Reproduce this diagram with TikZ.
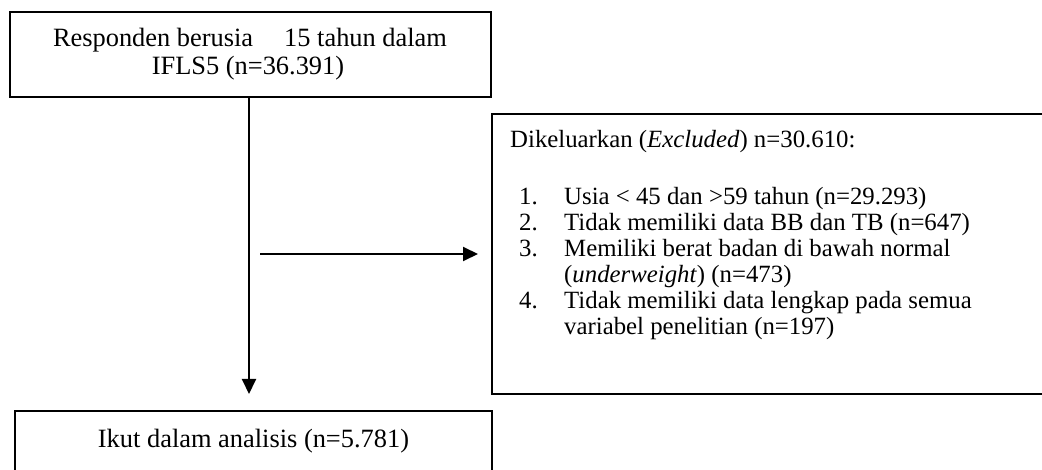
\documentclass[tikz,border=0pt]{standalone}
\usepackage{fontspec}
\setmainfont{Liberation Serif}
\usetikzlibrary{arrows.meta}
\begin{document}
\begin{tikzpicture}[x=1pt,y=-1pt,
  boxstyle/.style={draw=black,line width=1.4pt,rectangle,inner sep=0pt},
  bigtext/.style={font=\fontsize{26.4}{28}\selectfont,inner sep=0pt},
  listtext/.style={font=\fontsize{24.8}{26}\selectfont,inner sep=0pt,anchor=base west},
  arrowline/.style={line width=2pt,-{Triangle[length=15pt,width=14pt]}}]
\useasboundingbox (0,0) rectangle (1042,470);
\clip (0,0) rectangle (1042,470);
% boxes
\node[boxstyle,minimum width=481pt,minimum height=85pt] (top) at (250.5,54.5) {};
\node[boxstyle,minimum width=580pt,minimum height=280pt] (excl) at (782,254) {};
\node[boxstyle,minimum width=477pt,minimum height=100pt] (final) at (253.5,461) {};
% top text
\node[bigtext,anchor=base] (t1) at (250,47) {Responden berusia\hspace{31pt}15 tahun dalam};
\node[bigtext,anchor=base] (t2) at (248,75) {IFLS5 (n=36.391)};
% bottom text
\node[bigtext,anchor=base] (f1) at (253.5,447) {Ikut dalam analisis (n=5.781)};
% exclusion text
\node[listtext] (e0) at (510,148) {Dikeluarkan (\textit{Excluded}) n=30.610:};
\node[listtext] (n1) at (519,205) {1.};
\node[listtext] (i1) at (564,205) {Usia < 45 dan >59 tahun (n=29.293)};
\node[listtext] (n2) at (519,231) {2.};
\node[listtext] (i2) at (564,231) {Tidak memiliki data BB dan TB (n=647)};
\node[listtext] (n3) at (519,257) {3.};
\node[listtext] (i3) at (564,257) {Memiliki berat badan di bawah normal};
\node[listtext] (i3b) at (564,283) {(\textit{underweight}) (n=473)};
\node[listtext] (n4) at (519,309) {4.};
\node[listtext] (i4) at (564,309) {Tidak memiliki data lengkap pada semua};
\node[listtext] (i4b) at (564,335) {variabel penelitian (n=197)};
% connectors
\coordinate (vtop) at (249,97);
\coordinate (vend) at (249,394);
\coordinate (hs) at (260,254);
\coordinate (he) at (478,254);
\draw[arrowline] (top.south -| vtop) -- (vend);
\draw[arrowline] (hs) -- (he);
\end{tikzpicture}
\end{document}
